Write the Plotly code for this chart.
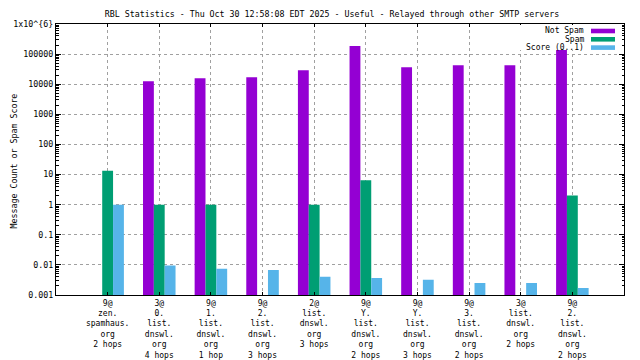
import plotly.graph_objects as go

# ---- data ----
categories = [
    "9@<br>zen.<br>spamhaus.<br>org<br>2 hops",
    "3@<br>0.<br>list.<br>dnswl.<br>org<br>4 hops",
    "9@<br>1.<br>list.<br>dnswl.<br>org<br>1 hop",
    "9@<br>2.<br>list.<br>dnswl.<br>org<br>3 hops",
    "2@<br>list.<br>dnswl.<br>org<br>3 hops",
    "9@<br>Y.<br>list.<br>dnswl.<br>org<br>2 hops",
    "9@<br>Y.<br>list.<br>dnswl.<br>org<br>3 hops",
    "9@<br>3.<br>list.<br>dnswl.<br>org<br>2 hops",
    "3@<br>list.<br>dnswl.<br>org<br>2 hops",
    "9@<br>2.<br>list.<br>dnswl.<br>org<br>2 hops",
]
not_spam = [None, 12600, 15800, 17000, 29000, 185000, 36900, 43000, 43000, 136000]
spam = [13.5, 1, 1, None, 1, 6.5, None, None, None, 2]
score = [1.0, 0.0095, 0.0074, 0.0068, 0.004, 0.0037, 0.0032, 0.0025, 0.0025, 0.0017]

series_names = ["Not Spam", "Spam", "Score (0..1)"]
series_colors = ["#9400D3", "#009E73", "#56B4E9"]

ytick_vals = [1e-3, 1e-2, 1e-1, 1, 10, 100, 1000, 10000, 100000, 1e6]
ytick_text = ["0.001", "0.01", "0.1", "1", "10", "100", "1000", "10000", "100000", "1x10^{6}"]

title_text = "RBL Statistics - Thu Oct 30 12:58:08 EDT 2025 - Useful - Relayed through other SMTP servers"
ytitle_text = "Message Count or Spam Score"

FONT = "DejaVu Sans Mono"
FS = 8.3
# the page body has an 8px margin: work in page pixels and subtract it
OFF = 8
W, H = 640 - OFF, 360 - OFF
PL, PR, PT, PB = 56, 624, 24, 295          # plot box in page pixels
L, R, T, B = PL - OFF, PR - OFF, PT - OFF, PB - OFF

def px_x(x):
    return (x - PL) / (PR - PL)

def px_y(y):
    return (PB - y) / (PB - PT)

fig = go.Figure()
xs = list(range(len(categories)))
for name, vals, col in zip(series_names, [not_spam, spam, score], series_colors):
    fig.add_trace(go.Bar(x=xs, y=vals, name=name, marker=dict(color=col, line=dict(width=0)),
                         showlegend=False))

grid = dict(showgrid=True, gridcolor="#a0a0a0", griddash="3px,3px", gridwidth=1)

fig.update_layout(
    width=W, height=H,
    margin=dict(l=L, r=W - R, t=T, b=H - B, autoexpand=False),
    paper_bgcolor="white", plot_bgcolor="white",
    barmode="group", bargap=0.37, bargroupgap=0,
    font=dict(family=FONT, size=FS, color="black"),
    title=dict(text=title_text, x=(332 - OFF) / W, xref="container", xanchor="center",
               y=1 - (14.5 - OFF) / H, yref="container", yanchor="middle",
               font=dict(family=FONT, size=FS, color="black")),
    xaxis=dict(range=[-1, 10], tickvals=xs, ticktext=categories, automargin=False,
               ticks="inside", ticklen=3, tickcolor="black",
               showline=True, linecolor="black", linewidth=1, mirror="ticks",
               zeroline=False, tickfont=dict(family=FONT, size=8), **grid),
    yaxis=dict(type="log", range=[-3, 6], tickvals=ytick_vals, ticktext=ytick_text,
               automargin=False,
               ticks="inside", ticklen=5, tickcolor="black",
               minor=dict(ticks="inside", ticklen=2.5, tickcolor="black", dtick="D1", showgrid=False),
               showline=True, linecolor="black", linewidth=1, mirror="ticks",
               zeroline=False, tickfont=dict(family=FONT, size=FS), **grid),
)

# y-axis title
fig.add_annotation(text=ytitle_text, textangle=-90, xref="paper", yref="paper",
                   x=px_x(13.5), y=px_y(161), xanchor="center", yanchor="middle",
                   showarrow=False, font=dict(family=FONT, size=FS, color="black"))

# legend (text right-aligned, swatch on the right, as in gnuplot)
fig.add_shape(type="rect", xref="paper", yref="paper", layer="above",
              x0=px_x(520), x1=px_x(622), y0=px_y(50), y1=px_y(25),
              fillcolor="white", line=dict(width=0))
row_y = [31.0, 39.3, 47.6]
for name, col, yc in zip(series_names, series_colors, row_y):
    fig.add_shape(type="rect", xref="paper", yref="paper", layer="above",
                  x0=px_x(591), x1=px_x(615), y0=px_y(yc + 2.3), y1=px_y(yc - 2.3),
                  fillcolor=col, line=dict(width=0))
    fig.add_annotation(text=name, xref="paper", yref="paper", x=px_x(585), y=px_y(yc),
                       xanchor="right", yanchor="middle", showarrow=False,
                       borderpad=0,
                       font=dict(family=FONT, size=8, color="black"))

fig.write_html("out.html")
